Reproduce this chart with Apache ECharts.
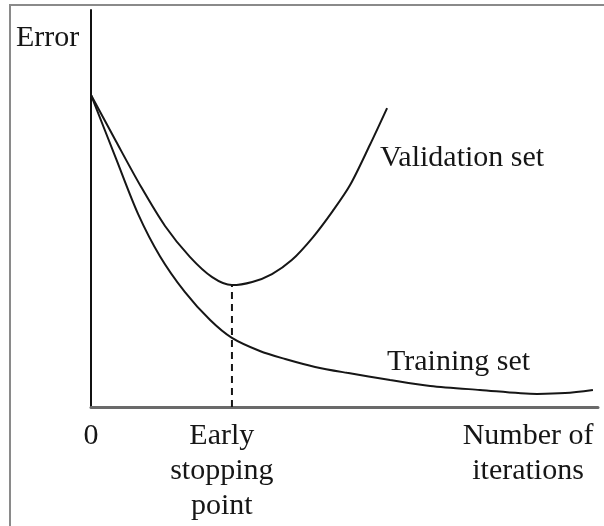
<!DOCTYPE html>
<html>
<head>
<meta charset="utf-8">
<script src="https://cdn.jsdelivr.net/npm/echarts@6/dist/echarts.min.js"></script>
<style>
  html, body { margin: 0; padding: 0; background: #fff; }
  #chart { width: 604px; height: 526px; }
</style>
</head>
<body>
<div id="chart"></div>
<script>
// training error curve (x = iterations, y = error), arbitrary units 0..100
const trainX = [0, 4.9, 9.3, 13.6, 18.5, 23.5, 27.8, 33.3, 38.3, 44.2, 50.5, 59.0, 66.9, 76.7, 88.0, 93.5, 99.0]
const trainY = [78.6, 62.7, 48.6, 38.0, 29.0, 21.9, 17.4, 14.1, 12.1, 10.1, 8.6, 6.8, 5.3, 4.3, 3.3, 3.5, 4.3]

// validation error curve
const validX = [0, 4.9, 9.9, 14.6, 19.5, 23.9, 27.8, 31.8, 35.7, 39.6, 43.8, 47.7, 51.1, 55.0, 58.4]
const validY = [78.6, 67.0, 55.4, 45.6, 37.8, 32.7, 30.7, 31.5, 33.5, 37.0, 42.8, 49.4, 55.9, 66.0, 75.3]

// early stopping point
const stopX = 27.8
const stopY = 30.7

// x axis tick labels
const tickValues = [0, 25.8, 86.2]
const tickLabels = ['0', 'Early\nstopping\npoint', 'Number of\niterations']

const serif = '"Liberation Serif", "DejaVu Serif", serif'
const ink = '#161616'

const zip = (xs, ys) => xs.map((x, i) => [x, ys[i]])

const chart = echarts.init(document.getElementById('chart'))

chart.setOption({
  animation: false,
  grid: { left: 91, right: 6, top: 10, bottom: 119 },
  xAxis: {
    type: 'value',
    min: 0,
    max: 100,
    axisLine: { lineStyle: { color: '#6a6a6a', width: 3 } },
    axisTick: { show: false },
    splitLine: { show: false },
    axisLabel: {
      customValues: tickValues,
      formatter: (v) => tickLabels[tickValues.indexOf(v)],
      fontFamily: serif,
      fontSize: 30,
      lineHeight: 35,
      color: ink,
      margin: 12,
      align: 'center'
    }
  },
  yAxis: {
    type: 'value',
    min: 0,
    max: 100,
    axisLine: { show: true, lineStyle: { color: '#111', width: 2 } },
    axisTick: { show: false },
    axisLabel: { show: false },
    splitLine: { show: false }
  },
  series: [
    {
      name: 'Training set',
      type: 'line',
      smooth: 0.3,
      showSymbol: false,
      lineStyle: { color: ink, width: 2 },
      data: zip(trainX, trainY)
    },
    {
      name: 'Validation set',
      type: 'line',
      smooth: 0.3,
      showSymbol: false,
      lineStyle: { color: ink, width: 2 },
      data: zip(validX, validY)
    },
    {
      name: 'Early stopping',
      type: 'line',
      showSymbol: false,
      lineStyle: { color: ink, width: 2, type: [7, 5] },
      data: [[stopX, 0], [stopX, stopY]]
    }
  ],
  graphic: [
    {
      type: 'polyline',
      shape: { points: [[10, 526], [10, 5], [604, 5]] },
      style: { stroke: '#8a8a8a', lineWidth: 2, fill: null }
    },
    {
      type: 'text',
      style: { text: 'Error', x: 16, y: 38, font: '30px ' + serif, fill: ink, verticalAlign: 'middle' }
    },
    {
      type: 'text',
      style: { text: 'Validation set', x: 380, y: 158, font: '30px ' + serif, fill: ink, verticalAlign: 'middle' }
    },
    {
      type: 'text',
      style: { text: 'Training set', x: 387, y: 362, font: '30px ' + serif, fill: ink, verticalAlign: 'middle' }
    }
  ]
})
</script>
</body>
</html>
